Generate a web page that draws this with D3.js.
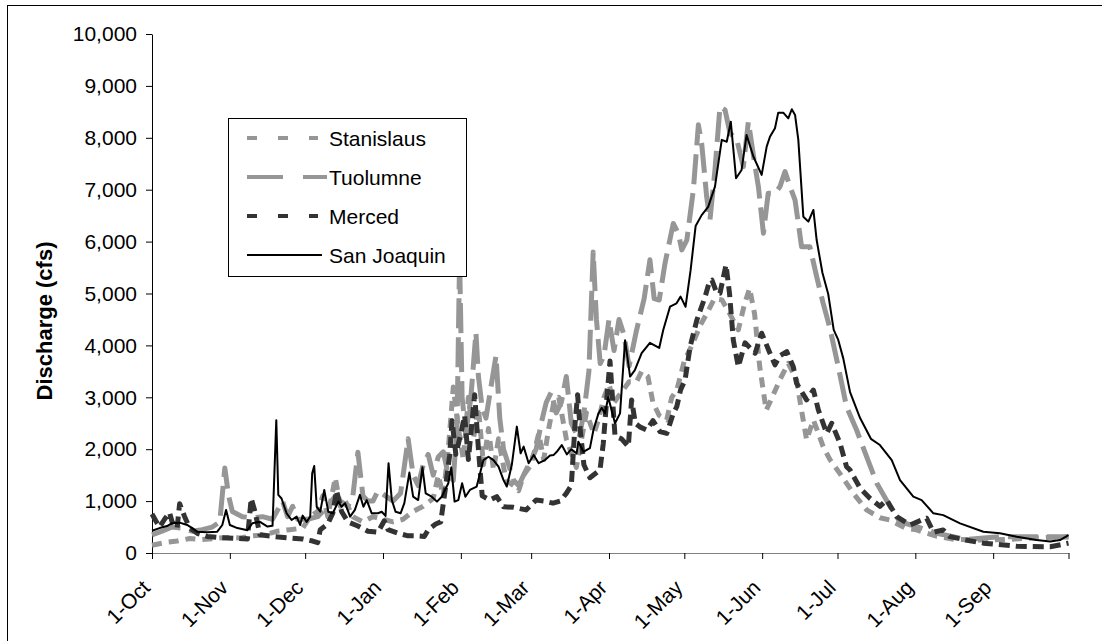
<!DOCTYPE html>
<html><head><meta charset="utf-8">
<script src="https://cdn.jsdelivr.net/npm/d3@7"></script>
<style>
body{margin:0;background:#fff}
svg text{font-family:"Liberation Sans",Arial,sans-serif}
</style>
</head><body>
<svg id="c" width="1102" height="641"></svg>
<script>
// ---- data (day 0 = 1-Oct) ----
const tickDays = [0,31,61,92,123,151,182,212,243,273,304,335,365];
const tickLabels = ["1-Oct","1-Nov","1-Dec","1-Jan","1-Feb","1-Mar","1-Apr","1-May","1-Jun","1-Jul","1-Aug","1-Sep",""];
const yTicks = [0,1000,2000,3000,4000,5000,6000,7000,8000,9000,10000];
const seriesNames = ["Stanislaus","Tuolumne","Merced","San Joaquin"];

const stanislaus = [[0,150],[5,200],[10,230],[15,280],[20,260],[25,280],[30,300],[35,290],[40,330],[45,350],[50,420],[55,450],[60,480],[63,700],[66,800],[68,1100],[70,700],[73,1450],[75,900],[77,1000],[80,700],[84,600],[88,700],[92,650],[96,600],[100,650],[104,800],[108,900],[112,1050],[114,1500],[116,1100],[118,2000],[120,3200],[122,2400],[124,1800],[126,3000],[128,2200],[130,2800],[132,1700],[134,2400],[136,1600],[138,2200],[141,1400],[144,1300],[146,1200],[148,1500],[151,1700],[154,2300],[156,1800],[158,2400],[160,2900],[162,3000],[165,2200],[169,1650],[173,2700],[176,2300],[178,2600],[180,3000],[182,3250],[184,2900],[187,3100],[190,3300],[193,3300],[195,3500],[197.5,3400],[199.5,2900],[202,2650],[205,2565],[207,3000],[209,3140],[212,3700],[215,4000],[218.5,4400],[221,4620],[224,4900],[227,4875],[230,4620],[233.5,4300],[236,4800],[238,5100],[240,4600],[242,3600],[244.6,2750],[247,3000],[250,3335],[253.4,3655],[256.7,3335],[258.5,2800],[260.7,2180],[263.4,2565],[267.3,2050],[270,1800],[273.9,1535],[279.3,1150],[284.6,830],[289.9,680],[293.9,636],[300,480],[304.5,445],[312,330],[320,260],[331,250],[340,260],[351,290],[365,310]];

const tuolumne = [[0,350],[4,420],[8,500],[12,480],[16,420],[20,450],[24,500],[27,600],[29,1640],[30.5,1100],[32,800],[36,700],[40,680],[44,700],[48,650],[52,1000],[54,700],[56,900],[58,650],[62,650],[66,700],[70,900],[73,1100],[75,1000],[78,900],[80,1100],[82,1940],[84,1100],[86,1000],[88,1000],[90,1200],[93,1100],[96,1000],[99,1150],[102,2200],[104,1500],[106,1300],[108,1700],[110,1900],[112,1500],[114,1850],[116,1950],[118,1500],[120,1400],[121.5,2500],[122.5,5700],[123.5,3000],[125,2300],[127,3000],[129,4250],[130,3400],[131.5,2800],[133,2600],[135,3200],[137,3800],[138.5,2600],[140,2000],[142,1700],[144,1400],[146,1300],[148,1500],[150,1700],[153,2000],[155,2500],[157,2900],[159,3100],[161,2700],[163,2900],[165,3400],[167,2500],[170,2200],[172,2700],[174,3500],[175.7,5800],[177,4500],[178.5,3650],[180,3800],[182,4500],[184,3900],[186,4500],[188,4200],[190,3600],[193,4300],[196,4900],[198.3,5650],[200,4900],[202,4875],[204.3,5580],[207.6,6350],[209.6,6160],[211,5840],[213,6030],[215.6,6995],[217.6,8250],[218.9,7895],[220.9,6865],[222.2,6415],[224.2,7380],[226.2,8600],[228.2,8540],[230.2,8090],[232.9,7960],[235.5,7445],[237.5,8310],[240.2,7445],[241.5,7060],[243.5,6160],[245.4,6930],[248.1,6930],[250.1,7060],[252.1,7350],[254.1,7060],[256.1,6800],[258.7,5900],[262,5900],[264.7,5325],[267.3,4810],[270,4330],[273.3,3590],[276.6,2820],[280.6,2370],[284.6,1855],[288.6,1350],[293.9,900],[297.9,600],[304.5,510],[312.5,380],[324.4,260],[337.7,315],[351,315],[365,315]];

const merced = [[0,750],[1.5,620],[3,500],[5,650],[7,780],[8,600],[10,480],[11,950],[13,700],[15,480],[18,380],[22,320],[26,300],[30,290],[34,280],[38,270],[39.5,1050],[41,800],[43,350],[48,320],[55,290],[60,270],[64,230],[66,200],[67,450],[70,560],[72,765],[73.5,1200],[75.5,800],[78,600],[82,520],[86,420],[90,400],[92.5,620],[94,450],[98,380],[102,330],[106,330],[108.5,320],[110,450],[113,560],[115,600],[117,1300],[118.5,1870],[119.5,2550],[121,1900],[123,2300],[124.5,2650],[126,1800],[128.5,3050],[130,2000],[131.5,1100],[134.6,1020],[137.3,1085],[140,890],[144,880],[149,830],[153,1020],[156,1000],[159.7,960],[162.5,1000],[165,1150],[167,1300],[168.5,2500],[169.5,3050],[170.5,2400],[172,1700],[174.4,1450],[178.4,1600],[179.7,2100],[181,2900],[182.4,3700],[183.5,2900],[184.4,2250],[187,2200],[189.7,2050],[191,2950],[192.5,2500],[194.3,2430],[197,2370],[199.5,2550],[202.3,2340],[205,2305],[207.6,2690],[209,2820],[210.5,3140],[212.3,3335],[214.3,3975],[217,4490],[220.3,4940],[222,5230],[223,5260],[225,5000],[226.2,5005],[228.6,5550],[230,5000],[231.5,4105],[233.5,3590],[236.2,4050],[240.2,3850],[242.8,4235],[246.1,3850],[248.1,3625],[250,3800],[252.8,3880],[255.4,3590],[256.7,3270],[260.7,2950],[263.4,3140],[265.4,2755],[268.7,2305],[270.7,2500],[274,2115],[276.6,1665],[278,1600],[282,1250],[286,1050],[289.9,900],[292.6,1020],[296.6,700],[301.9,540],[306.5,636],[308.5,670],[311.2,400],[315.1,445],[317.8,315],[324,250],[331.1,190],[344.4,130],[357.7,120],[365,190]];

const sanJoaquin = [[0,430],[3,480],[6,520],[8,575],[11,585],[14,540],[16,480],[18,410],[22,400],[26,410],[28,540],[29.5,830],[31,540],[34,480],[38,440],[40,575],[43,600],[46,510],[48,525],[49.5,2560],[50.3,1120],[51.6,1050],[53.6,765],[55.6,636],[57.6,700],[59,540],[60,720],[61.6,600],[63,700],[63.8,1535],[64.6,1675],[65.6,890],[67,795],[68.6,1215],[70.2,795],[72,765],[74.2,990],[75.5,890],[76.9,960],[78.9,700],[80.8,830],[82.8,1120],[84.2,890],[85.5,1020],[87.5,765],[90,765],[91.5,795],[93,715],[94.2,1730],[95.5,1020],[97,795],[99,765],[100.5,960],[102.5,1550],[104,1085],[106,1020],[107.7,1650],[109,1150],[111.4,1085],[113.5,990],[115.4,1085],[118,1345],[119.2,1650],[120.5,990],[122,1020],[123.5,1345],[124.8,1085],[126.6,1215],[129.3,1280],[132,1790],[134,1855],[136,1790],[138,1665],[140,1405],[141.3,1280],[143.3,1700],[145.3,2435],[146.8,1920],[148,2050],[150,1730],[152,1890],[154,1730],[156.5,1790],[158.5,1880],[160,1890],[161.2,1950],[163.2,2080],[165.2,1900],[167,2000],[169.1,1920],[169.8,2145],[171.8,1950],[174.4,2020],[175.8,2370],[177.8,2690],[179.1,2800],[180.4,2690],[181.7,3000],[184.4,2500],[186.4,2690],[188.4,4100],[190.4,3400],[192.3,3525],[195,3850],[198.3,4050],[202,3950],[203.6,4295],[206.3,4745],[208.9,4810],[210.5,4940],[212.5,4745],[214.5,5450],[216.5,6300],[218.9,6510],[221.5,6670],[224.2,7060],[226.9,7960],[228.9,7925],[230.5,8310],[232.6,7220],[234.8,7380],[236.8,8055],[239.5,7640],[242.8,7285],[244.8,7830],[246.1,8020],[248.1,8185],[249.4,8485],[251.4,8485],[253.4,8375],[254.8,8550],[256.1,8440],[257.4,7960],[259.4,6480],[261.4,6385],[263.4,6610],[264.7,6030],[267,5400],[269.3,4990],[271.5,4300],[273.3,4105],[275.3,3750],[278,3100],[282,2600],[286.3,2200],[289.9,2080],[294.6,1790],[297.9,1405],[303.2,1085],[306.5,1020],[311.2,765],[315.1,730],[321.8,570],[331.1,410],[337.7,380],[344.4,315],[352.3,250],[357.7,220],[361.6,250],[365,345]];

// ---- drawing ----
const svg = d3.select("#c");
const FS = 21;
svg.append("rect").attr("x",7.5).attr("y",5.5).attr("width",1100).attr("height",640)
  .attr("fill","#fff").attr("stroke","#000").attr("stroke-width",1);

const x = d3.scaleLinear().domain([0,365]).range([152,1068.5]);
const y = d3.scaleLinear().domain([0,10000]).range([553,34]);

// axes
const yAxis = d3.axisLeft(y).tickValues(yTicks).tickSize(6).tickSizeOuter(0).tickPadding(9)
  .tickFormat(d3.format(","));
const gy = svg.append("g").attr("transform","translate(152,0)").call(yAxis);
gy.select(".domain").attr("stroke","#000");
gy.selectAll("text").attr("font-size",FS).attr("fill","#000");

const xAxis = d3.axisBottom(x).tickValues(tickDays).tickSize(6).tickSizeOuter(0)
  .tickFormat((d,i)=>tickLabels[i]);
const gx = svg.append("g").attr("transform","translate(0,553)").call(xAxis);
gx.select(".domain").attr("stroke","#808080");
gx.selectAll("text").attr("font-size",FS).attr("fill","#000")
  .attr("text-anchor","end").attr("x",0).attr("y",0).attr("dy",null)
  .attr("transform","translate(-1,36) rotate(-45)");

// y title
svg.append("text").attr("transform","translate(52,321) rotate(-90)")
  .attr("text-anchor","middle").attr("font-size",22).attr("font-weight","bold")
  .text("Discharge (cfs)");

// series
const styles = [
  {data:stanislaus, color:"#969696", width:5, dash:"10,7", ldash:"10,21"},
  {data:tuolumne,   color:"#969696", width:5, dash:"30,9", ldash:"36,20"},
  {data:merced,     color:"#333333", width:5, dash:"11,6", ldash:"10,21"},
  {data:sanJoaquin, color:"#000000", width:2, dash:null, ldash:null}
];
const line = d3.line().x(d=>x(d[0])).y(d=>y(d[1]));
styles.forEach(s=>{
  svg.append("path").datum(s.data).attr("d",line)
    .attr("fill","none").attr("stroke",s.color).attr("stroke-width",s.width)
    .attr("stroke-dasharray",s.dash).attr("stroke-linejoin","round");
});

// legend
const lg = svg.append("g");
lg.append("rect").attr("x",228.5).attr("y",118.5).attr("width",238).attr("height",158)
  .attr("fill","#fff").attr("stroke","#000").attr("stroke-width",1);
const rowY = [138,177,216,255];
styles.forEach((s,i)=>{
  lg.append("line").attr("x1",247).attr("x2",i===1?327:(i===3?322:318))
    .attr("y1",rowY[i]).attr("y2",rowY[i])
    .attr("stroke",s.color).attr("stroke-width",s.width===2?2:4)
    .attr("stroke-dasharray",s.ldash);
  lg.append("text").attr("x",329).attr("y",rowY[i]).attr("dy","0.36em")
    .attr("font-size",FS).attr("fill","#000").text(seriesNames[i]);
});
</script>
</body></html>
